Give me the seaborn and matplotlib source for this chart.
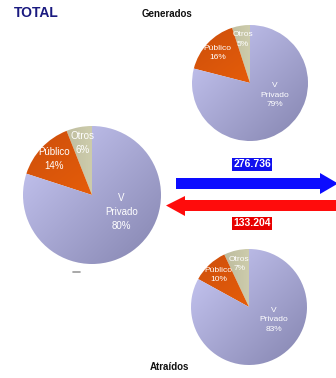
import numpy as np
import matplotlib
matplotlib.use("Agg")
import matplotlib.pyplot as plt
from matplotlib.colors import LinearSegmentedColormap
from matplotlib.patches import Polygon
import seaborn as sns

sns.set_theme(style="white")
plt.rcParams['font.family'] = ['Liberation Sans', 'DejaVu Sans']

# ---- data ----
categories = ["Otros", "Público", "V\nPrivado"]
total_share = [6, 14, 80]
generados_share = [5, 16, 79]
atraidos_share = [7, 10, 83]
flow_values = ["276.736", "133.204"]
titles = ["TOTAL", "Generados", "Atraídos"]

# gradient colours per category (light, dark) and direction
grad = {
    "Otros": ("#f2f2cc", "#a8a68c", (-1, 0)),
    "Público": ("#ff6c06", "#cc4e0c", (-0.6, 0.8)),
    "V\nPrivado": ("#cacaf6", "#8585b0", (0.7, -0.7)),
}

W, H = 336, 378
fig = plt.figure(figsize=(W / 100, H / 100), dpi=100)
fig.patch.set_facecolor("white")


def draw_pie(cx, cy, r, shares, fs, vy):
    ax = fig.add_axes([(cx - r) / W, (H - cy - r) / H, 2 * r / W, 2 * r / H])
    wedges, _ = ax.pie(shares, startangle=90, counterclock=True, radius=1,
                       colors=["none"] * len(shares),
                       wedgeprops=dict(linewidth=0))
    xx, yy = np.meshgrid(np.linspace(-1, 1, 200), np.linspace(-1, 1, 200))
    for w, cat, val in zip(wedges, categories, shares):
        c1, c2, d = grad[cat]
        t = (xx * d[0] + yy * d[1])
        t = (t - t.min()) / (t.max() - t.min())
        cmap = LinearSegmentedColormap.from_list("g", [c1, c2])
        im = ax.imshow(t, cmap=cmap, extent=(-1, 1, -1, 1), origin="lower",
                       interpolation="bilinear", zorder=1)
        im.set_clip_path(w)
        ang = np.deg2rad((w.theta1 + w.theta2) / 2)
        if cat.startswith("V"):
            tx, ty = 0.43, vy
        else:
            tx, ty = 0.76 * np.cos(ang), 0.76 * np.sin(ang)
        ax.text(tx, ty, f"{cat}\n{val}%", ha="center", va="center",
                color="white", fontsize=fs, linespacing=1.5, zorder=3)
    ax.set_xlim(-1.0, 1.0)
    ax.set_ylim(-1.0, 1.0)
    ax.set_aspect("auto")
    ax.axis("off")
    return ax


draw_pie(92, 195, 69, total_share, 7, -0.25)
draw_pie(250, 83, 58, generados_share, 6, -0.21)
draw_pie(249, 307, 58, atraidos_share, 6, -0.22)

# overlay in pixel coordinates
ov = fig.add_axes([0, 0, 1, 1], zorder=-1)
ov.set_xlim(0, W)
ov.set_ylim(H, 0)
ov.axis("off")

blue = "#0c0cff"
red = "#ff0c0c"
ov.add_patch(Polygon([(176, 178), (320, 178), (320, 173), (338, 183.5),
                      (320, 194), (320, 189), (176, 189)],
                     closed=True, facecolor=blue, edgecolor="none"))
ov.add_patch(Polygon([(166, 205.5), (185, 196), (185, 200), (340, 200),
                      (340, 211), (185, 211), (185, 216)],
                     closed=True, facecolor=red, edgecolor="none"))
ov.plot([73, 80], [272, 272], color="#999999", lw=1.2)

fig.text(252 / W, 1 - 164.5 / H, flow_values[0], ha="center", va="center",
         color="white", fontsize=7.5, fontweight="bold",
         bbox=dict(boxstyle="square,pad=0.15", facecolor="#1010ee", edgecolor="none"))
fig.text(252 / W, 1 - 223.5 / H, flow_values[1], ha="center", va="center",
         color="white", fontsize=7.5, fontweight="bold",
         bbox=dict(boxstyle="square,pad=0.15", facecolor="#e80000", edgecolor="none"))

fig.text(14 / W, 1 - 13 / H, titles[0], ha="left", va="center",
         color="#1a1a80", fontsize=10, fontweight="bold")
fig.text(167 / W, 1 - 14 / H, titles[1], ha="center", va="center",
         color="#111111", fontsize=7, fontweight="bold")
fig.text(169 / W, 1 - 367 / H, titles[2], ha="center", va="center",
         color="#111111", fontsize=7, fontweight="bold")

fig.savefig("out.png", dpi=100, facecolor="white")
